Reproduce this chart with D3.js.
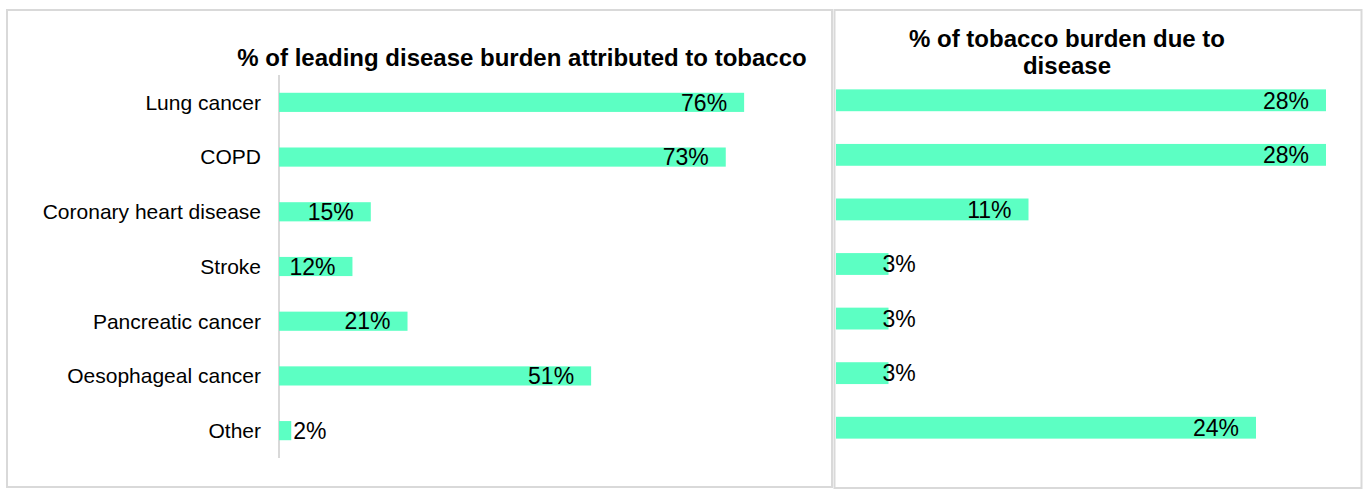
<!DOCTYPE html>
<html>
<head>
<meta charset="utf-8">
<script src="https://cdn.jsdelivr.net/npm/d3@7/dist/d3.min.js"></script>
<style>
  html, body { margin: 0; padding: 0; background: #fff; }
  svg { display: block; font-family: "Liberation Sans", Arial, sans-serif; }
</style>
</head>
<body>
<svg id="chart" width="1365" height="489"></svg>
<script>
// Disease categories shared by both panels
const categories = ["Lung cancer", "COPD", "Coronary heart disease", "Stroke",
                    "Pancreatic cancer", "Oesophageal cancer", "Other"];

// Share of each disease's burden attributable to tobacco
const attributedShare = [0.76, 0.73, 0.15, 0.12, 0.21, 0.51, 0.02];

// Share of total tobacco burden contributed by each disease
const burdenShare = [0.28, 0.28, 0.11, 0.03, 0.03, 0.03, 0.24];

const leftTitle = ["% of leading disease burden attributed to tobacco"];
const rightTitle = ["% of tobacco burden due to", "disease"];

const barColor = "#5cffc3";
const frameColor = "#d9d9d9";
const fmt = d3.format(".0%");

const svg = d3.select("#chart");

// Panel frames
svg.append("rect").attr("x", 7).attr("y", 10).attr("width", 825).attr("height", 477)
  .attr("fill", "#fff").attr("stroke", frameColor).attr("stroke-width", 2);
svg.append("rect").attr("x", 834.5).attr("y", 10).attr("width", 527).attr("height", 478)
  .attr("fill", "#fff").attr("stroke", frameColor).attr("stroke-width", 2);

function drawPanel(cfg) {
  const g = svg.append("g");
  const x = d3.scaleLinear().domain([0, 1]).range([cfg.x0, cfg.x0 + cfg.pxPerUnit]);
  const y = d3.scaleBand().domain(categories).range(cfg.yRange)
    .paddingInner(cfg.pad).paddingOuter(cfg.pad / 2);

  // Title
  const t = g.append("text")
    .attr("text-anchor", "middle")
    .attr("font-weight", "bold")
    .attr("font-size", 24)
    .attr("fill", "#000");
  cfg.title.forEach((line, i) => {
    t.append("tspan").attr("x", cfg.titleX).attr("y", cfg.titleY + i * 27).text(line);
  });

  // Category axis
  if (cfg.showCategories) {
    const axis = d3.axisLeft(y).tickSize(0).tickPadding(18);
    const ag = g.append("g").attr("transform", `translate(${cfg.x0},0)`).call(axis);
    ag.select(".domain").attr("stroke", frameColor).attr("stroke-width", 2)
      .attr("d", `M0,${cfg.yRange[0]}V${cfg.yRange[1]}`);
    ag.selectAll(".tick text")
      .attr("font-size", 21)
      .attr("font-family", "Liberation Sans, Arial, sans-serif")
      .attr("fill", "#000")
      .attr("dy", "0.35em");
  }

  const rows = categories.map((c, i) => ({ c, v: cfg.values[i] }));

  g.selectAll("rect.bar").data(rows).join("rect")
    .attr("class", "bar")
    .attr("x", x(0))
    .attr("y", d => y(d.c))
    .attr("width", d => x(d.v) - x(0))
    .attr("height", y.bandwidth())
    .attr("fill", barColor);

  // Value labels: inside the bar end when they fit, otherwise just past it
  g.selectAll("text.val").data(rows).join("text")
    .attr("class", "val")
    .attr("font-size", 23)
    .attr("fill", "#000")
    .attr("y", d => y(d.c) + y.bandwidth() / 2)
    .attr("dy", "0.36em")
    .text(d => fmt(d.v))
    .each(function (d) {
      const w = this.getComputedTextLength();
      const barW = x(d.v) - x(0);
      const sel = d3.select(this);
      if (barW - 17 - w >= 10) {
        sel.attr("text-anchor", "end").attr("x", x(d.v) - 17);
      } else {
        sel.attr("text-anchor", "start").attr("x", x(d.v) + cfg.overflowGap);
      }
    });
}

drawPanel({
  values: attributedShare,
  title: leftTitle,
  titleX: 522, titleY: 66,
  x0: 279, pxPerUnit: 612,
  yRange: [75, 458],
  pad: 0.65,
  showCategories: true,
  overflowGap: 2
});

drawPanel({
  values: burdenShare,
  title: rightTitle,
  titleX: 1067, titleY: 47,
  x0: 836, pxPerUnit: 1750,
  yRange: [73, 455],
  pad: 0.6,
  showCategories: false,
  overflowGap: -6
});
</script>
</body>
</html>
